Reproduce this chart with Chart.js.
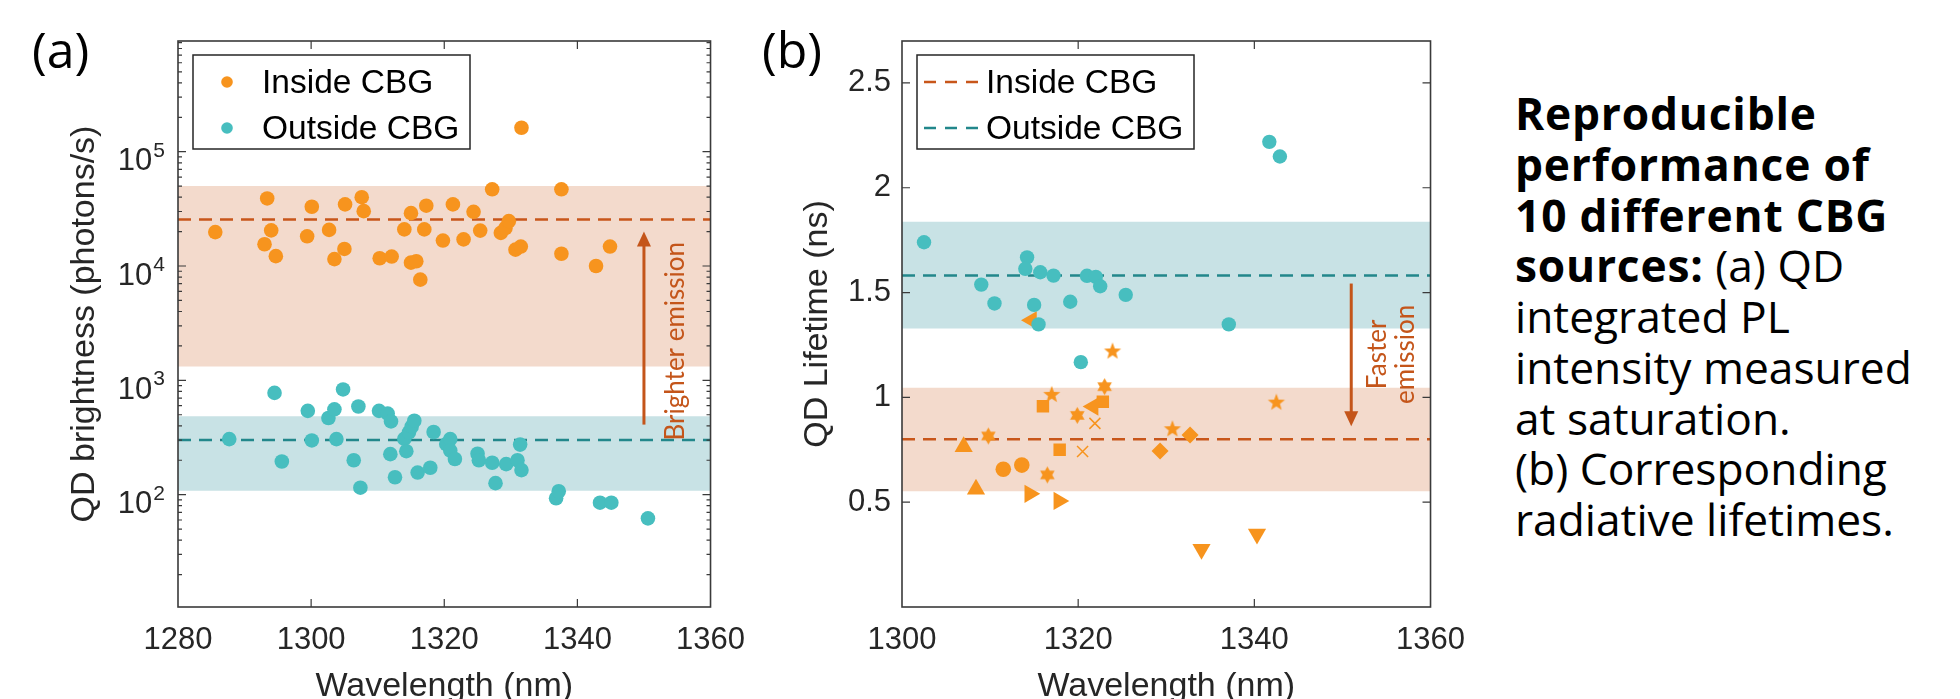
<!DOCTYPE html>
<html><head><meta charset="utf-8">
<script src="https://cdn.jsdelivr.net/npm/chart.js@4.4.0/dist/chart.umd.min.js"></script>
<style>
html,body{margin:0;padding:0;background:#fff;}
body{width:1960px;height:699px;overflow:hidden;position:relative;}
#ca{position:absolute;left:0;top:0;}
#cb{position:absolute;left:760px;top:0;}
.panel{position:absolute;font-family:'Open Sans',sans-serif;font-size:50px;color:#000;line-height:normal;}
#caption{position:absolute;left:1515px;top:88px;font-family:'Open Sans',sans-serif;font-size:44.3px;line-height:50.75px;color:#000;white-space:nowrap;}
#caption b{letter-spacing:0.8px;}
</style></head>
<body>
<canvas id="ca" width="760" height="720"></canvas>
<canvas id="cb" width="720" height="720"></canvas>
<div class="panel" style="left:32px;top:15px">(a)</div>
<div class="panel" style="left:762px;top:15px">(b)</div>
<div id="caption"><b>Reproducible<br>performance of<br>10 different CBG<br>sources:</b> (a) QD<br>integrated PL<br>intensity measured<br>at saturation.<br>(b) Corresponding<br>radiative lifetimes.</div>
<script>
// ---------- data ----------
const xRangeA = [1280, 1360];
const yRangeA = [10.4, 930000];
const xRangeB = [1300, 1360];
const yRangeB = [0, 2.7];
const xStep = 20;
const yStepB = 0.5;

// (a) integrated PL brightness (photons/s)
const insideWlA = [1285.6,1293.4,1293.0,1294.0,1294.7,1299.4,1300.1,1302.7,1303.5,1305.0,1305.1,1307.6,1307.9,1310.3,1312.1,1314.0,1315.0,1315.0,1315.8,1316.4,1317.0,1317.3,1319.8,1321.3,1322.9,1324.4,1325.4,1327.2,1328.5,1329.2,1329.7,1330.7,1331.5,1331.6,1337.6,1337.6,1342.8,1344.9];
const insideBrightA = [19800,39000,15500,20500,12200,18200,33000,20700,11500,14100,34600,40000,30200,11700,12100,20900,29000,10700,11000,7600,20900,33700,16700,34600,17100,29800,20400,46900,19500,21500,24700,13900,14800,162000,46900,12800,10000,14800];
const outsideWlA = [1287.7,1294.5,1295.6,1299.5,1300.1,1302.6,1303.5,1303.8,1304.8,1306.4,1307.1,1307.4,1310.2,1311.5,1312.0,1311.9,1312.6,1314.0,1314.3,1314.7,1315.1,1315.5,1316.0,1317.9,1318.4,1320.3,1320.9,1320.9,1321.6,1325.0,1325.2,1327.2,1327.7,1329.3,1331.0,1331.4,1331.6,1336.8,1337.2,1343.4,1345.1,1350.6];
const outsideBrightA = [306,776,195,541,298,468,558,306,832,200,590,115,541,512,437,226,142,308,240,351,393,443,156,172,353,277,306,243,205,228,200,190,126,185,200,274,164,93,107,85,85,62];
const insideBandA = [1320, 50000];   // [low, high]
const outsideBandA = [108, 485];
const insideMeanA = 25500;
const outsideMeanA = 300;
const arrowA = [1350, 410, 20000];   // [x, from, to]
const arrowTextA = [1354.8, 2200];
const arrowLabelA = ['Brighter emission'];

// (b) radiative lifetime (ns)
const outsideWlB = [1302.5,1309.0,1310.5,1314.2,1314.0,1315.7,1315.0,1315.5,1317.2,1319.1,1320.3,1321.0,1322.0,1322.5,1325.4,1337.1,1341.7,1342.9];
const outsideLifeB = [1.74,1.538,1.448,1.668,1.613,1.597,1.441,1.348,1.581,1.456,1.168,1.58,1.575,1.53,1.489,1.348,2.219,2.149];
// inside CBG, one marker shape per CBG source
const circleWl = [1311.5, 1313.6];       const circleLife = [0.657, 0.677];
const triUpWl = [1307.0, 1308.4];        const triUpLife = [0.765, 0.562];
const triDownWl = [1334.0, 1340.3];      const triDownLife = [0.276, 0.348];
const triRightWl = [1314.5, 1317.8];     const triRightLife = [0.54, 0.506];
const triLeftWl = [1314.7, 1321.7];      const triLeftLife = [1.368, 0.956];
const squareWl = [1316.0, 1317.9, 1322.8]; const squareLife = [0.958, 0.75, 0.979];
const diamondWl = [1329.3, 1332.7];      const diamondLife = [0.744, 0.82];
const pentaWl = [1317.0, 1323.9, 1330.7, 1342.5]; const pentaLife = [1.012, 1.219, 0.848, 0.975];
const hexaWl = [1309.8, 1316.5, 1319.9, 1323.0];  const hexaLife = [0.816, 0.63, 0.914, 1.051];
const crossWl = [1320.5, 1321.9];        const crossLife = [0.742, 0.876];
const insideBandB = [0.552, 1.046];
const outsideBandB = [1.329, 1.838];
const insideMeanB = 0.80;
const outsideMeanB = 1.581;
const arrowB = [1351, 1.543, 0.862];
const arrowTextB = [1355.6, 1.205];
const arrowLabelB = ['Faster', 'emission'];

// ---------- styles ----------
const ORANGE = '#F7941E';
const TEAL = '#47BEBF';
const ORANGE_BAND = '#F3DACC';
const TEAL_BAND = '#C8E2E5';
const ORANGE_DASH = '#C8561A';
const TEAL_DASH = '#22878B';
const ARROW = '#C4551A';
const AXIS = '#3a3a3a';
const TXT = '#262626';
const FONT = "'Liberation Sans', Arial, sans-serif";

const pts = (xs, ys) => xs.map((x, i) => ({x, y: ys[i]}));
const hline = (r, v) => [{x: r[0], y: v}, {x: r[1], y: v}];

function starCanvas(n, ro, ri, color) {
  const s = Math.ceil(ro * 2 + 2);
  const c = document.createElement('canvas');
  c.width = s; c.height = s;
  const g = c.getContext('2d');
  g.fillStyle = color;
  g.beginPath();
  for (let i = 0; i < 2 * n; i++) {
    const a = -Math.PI / 2 + i * Math.PI / n;
    const r = i % 2 ? ri : ro;
    const px = s / 2 + r * Math.cos(a), py = s / 2 + r * Math.sin(a);
    if (i === 0) g.moveTo(px, py); else g.lineTo(px, py);
  }
  g.closePath(); g.fill();
  return c;
}
const pentagram = starCanvas(5, 9, 3.8, ORANGE);
const hexagram = starCanvas(6, 8.4, 4.8, ORANGE);

// ---------- plugins ----------
const framePlugin = {
  id: 'frame',
  afterDraw(chart) {
    const {ctx, chartArea: a} = chart;
    const xs = chart.scales.x, ys = chart.scales.y;
    ctx.save();
    ctx.strokeStyle = AXIS; ctx.lineWidth = 1.6;
    ctx.strokeRect(a.left, a.top, a.right - a.left, a.bottom - a.top);
    ctx.lineWidth = 1.2;
    ctx.beginPath();
    xs.ticks.forEach(t => {
      if (t.value <= xs.min || t.value >= xs.max) return;
      const px = xs.getPixelForValue(t.value);
      ctx.moveTo(px, a.bottom); ctx.lineTo(px, a.bottom - 8);
      ctx.moveTo(px, a.top); ctx.lineTo(px, a.top + 8);
    });
    ys.ticks.forEach(t => {
      const v = t.value;
      if (v <= ys.min || v >= ys.max) return;
      let len = 8;
      if (ys.type === 'logarithmic') {
        const e = Math.floor(Math.log10(v) + 1e-9);
        const m = v / Math.pow(10, e);
        if (Math.abs(m - Math.round(m)) > 1e-6) return;
        len = Math.round(m) === 1 ? 8 : 4;
      }
      const py = ys.getPixelForValue(v);
      ctx.moveTo(a.left, py); ctx.lineTo(a.left + len, py);
      ctx.moveTo(a.right, py); ctx.lineTo(a.right - len, py);
    });
    ctx.stroke();
    // log labels 10^n
    if (ys.type === 'logarithmic') {
      ctx.fillStyle = TXT;
      ctx.textBaseline = 'alphabetic';
      ys.ticks.forEach(t => {
        const v = t.value;
        const e = Math.log10(v);
        if (Math.abs(e - Math.round(e)) > 1e-9 || v < ys.min || v > ys.max) return;
        const py = ys.getPixelForValue(v);
        const exp = String(Math.round(e));
        ctx.font = '21px ' + FONT;
        const ew = ctx.measureText(exp).width;
        const right = a.left - 13;
        ctx.textAlign = 'left';
        ctx.fillText(exp, right - ew, py + 5);
        ctx.font = '31px ' + FONT;
        ctx.textAlign = 'right';
        ctx.fillText('10', right - ew - 1, py + 18.5);
      });
    }
    ctx.restore();
  }
};

const legendPlugin = {
  id: 'boxLegend',
  afterDraw(chart, args, o) {
    if (!o.items) return;
    const {ctx, chartArea: a} = chart;
    const x0 = a.left + 15, y0 = a.top + 14, w = 277, h = 94;
    ctx.save();
    ctx.fillStyle = '#fff';
    ctx.fillRect(x0, y0, w, h);
    ctx.strokeStyle = '#262626'; ctx.lineWidth = 1.5;
    ctx.strokeRect(x0, y0, w, h);
    ctx.font = '33.5px ' + FONT;
    ctx.textBaseline = 'middle'; ctx.textAlign = 'left';
    o.items.forEach((it, i) => {
      const ds = chart.data.datasets[it];
      const cy = y0 + 27 + i * 46;
      if (o.kind === 'marker') {
        ctx.fillStyle = ds.backgroundColor;
        ctx.beginPath(); ctx.arc(x0 + 34, cy, 5.8, 0, Math.PI * 2); ctx.fill();
      } else {
        ctx.strokeStyle = ds.borderColor; ctx.lineWidth = 2.5;
        ctx.setLineDash([12, 9]);
        ctx.beginPath(); ctx.moveTo(x0 + 7, cy); ctx.lineTo(x0 + 64, cy); ctx.stroke();
        ctx.setLineDash([]);
      }
      ctx.fillStyle = '#000';
      ctx.fillText(ds.label, x0 + 69, cy + 2);
    });
    ctx.restore();
  }
};

const arrowPlugin = {
  id: 'arrowNote',
  afterDatasetsDraw(chart, args, o) {
    if (!o.arrow) return;
    const {ctx} = chart;
    const xs = chart.scales.x, ys = chart.scales.y;
    const px = xs.getPixelForValue(o.arrow[0]);
    const p0 = ys.getPixelForValue(o.arrow[1]);
    const p1 = ys.getPixelForValue(o.arrow[2]);
    const dir = p1 < p0 ? -1 : 1;
    ctx.save();
    ctx.strokeStyle = ARROW; ctx.fillStyle = ARROW; ctx.lineWidth = 3;
    ctx.beginPath(); ctx.moveTo(px, p0); ctx.lineTo(px, p1 - dir * 12); ctx.stroke();
    ctx.beginPath();
    ctx.moveTo(px, p1); ctx.lineTo(px - 7, p1 - dir * 15); ctx.lineTo(px + 7, p1 - dir * 15);
    ctx.closePath(); ctx.fill();
    const tx = xs.getPixelForValue(o.text[0]);
    const ty = ys.getPixelForValue(o.text[1]);
    ctx.translate(tx, ty); ctx.rotate(-Math.PI / 2);
    ctx.font = "26px Lato, 'Open Sans', sans-serif";
    ctx.textAlign = 'center'; ctx.textBaseline = 'middle';
    const n = o.lines.length, lh = 28;
    o.lines.forEach((s, i) => ctx.fillText(s, 0, (i - (n - 1) / 2) * lh));
    ctx.restore();
  }
};

Chart.register(framePlugin, legendPlugin, arrowPlugin);

function xScale(range) {
  return {
    type: 'linear', min: range[0], max: range[1],
    grid: {display: false, drawTicks: false}, border: {display: false},
    ticks: {stepSize: xStep, color: TXT, font: {size: 31, family: FONT}, padding: 15, maxRotation: 0,
            callback: v => String(v)},
    title: {display: true, text: 'Wavelength (nm)', color: TXT, font: {size: 34, family: FONT}, padding: {top: 0, bottom: 12.6}},
    afterFit: s => { s.height = 113; }
  };
}

// ---------- chart (a) ----------
new Chart(document.getElementById('ca'), {
  type: 'scatter',
  data: {datasets: [
    {label: 'Inside CBG', data: pts(insideWlA, insideBrightA), backgroundColor: ORANGE, borderWidth: 0, pointRadius: 7.3, order: 0},
    {label: 'Outside CBG', data: pts(outsideWlA, outsideBrightA), backgroundColor: TEAL, borderWidth: 0, pointRadius: 7.3, order: 0},
    {type: 'line', label: 'Inside mean', data: hline(xRangeA, insideMeanA), borderColor: ORANGE_DASH, borderDash: [13, 8], borderWidth: 2.5, pointRadius: 0, fill: false, order: 1},
    {type: 'line', label: 'Outside mean', data: hline(xRangeA, outsideMeanA), borderColor: TEAL_DASH, borderDash: [13, 8], borderWidth: 2.5, pointRadius: 0, fill: false, order: 1},
    {type: 'line', label: 'Inside spread', data: hline(xRangeA, insideBandA[1]), borderWidth: 0, pointRadius: 0, backgroundColor: ORANGE_BAND, fill: {value: insideBandA[0]}, order: 2},
    {type: 'line', label: 'Outside spread', data: hline(xRangeA, outsideBandA[1]), borderWidth: 0, pointRadius: 0, backgroundColor: TEAL_BAND, fill: {value: outsideBandA[0]}, order: 2}
  ]},
  options: {
    responsive: false, animation: false,
    layout: {padding: {left: 0, right: 43, top: 41, bottom: 0}},
    plugins: {legend: {display: false}, tooltip: {enabled: false},
      boxLegend: {items: [0, 1], kind: 'marker'},
      arrowNote: {arrow: arrowA, text: arrowTextA, lines: arrowLabelA}},
    scales: {
      x: xScale(xRangeA),
      y: {type: 'logarithmic', min: yRangeA[0], max: yRangeA[1],
          grid: {display: false, drawTicks: false}, border: {display: false},
          ticks: {display: false},
          title: {display: true, text: 'QD brightness (photons/s)', color: TXT, font: {size: 34, family: FONT}, padding: {top: 64.6, bottom: 0}},
          afterFit: s => { s.width = 178; }}
    }
  }
});

// ---------- chart (b) ----------
const oc = {backgroundColor: ORANGE, borderColor: ORANGE, borderWidth: 0, order: 0};
new Chart(document.getElementById('cb'), {
  type: 'scatter',
  data: {datasets: [
    {type: 'line', label: 'Inside CBG', data: hline(xRangeB, insideMeanB), borderColor: ORANGE_DASH, borderDash: [13, 8], borderWidth: 2.5, pointRadius: 0, fill: false, order: 1},
    {type: 'line', label: 'Outside CBG', data: hline(xRangeB, outsideMeanB), borderColor: TEAL_DASH, borderDash: [13, 8], borderWidth: 2.5, pointRadius: 0, fill: false, order: 1},
    {type: 'line', label: 'Inside spread', data: hline(xRangeB, insideBandB[1]), borderWidth: 0, pointRadius: 0, backgroundColor: ORANGE_BAND, fill: {value: insideBandB[0]}, order: 2},
    {type: 'line', label: 'Outside spread', data: hline(xRangeB, outsideBandB[1]), borderWidth: 0, pointRadius: 0, backgroundColor: TEAL_BAND, fill: {value: outsideBandB[0]}, order: 2},
    {label: 'Outside CBG points', data: pts(outsideWlB, outsideLifeB), backgroundColor: TEAL, borderWidth: 0, pointRadius: 7.2, order: 0},
    {...oc, label: 'CBG 1', data: pts(circleWl, circleLife), pointStyle: 'circle', pointRadius: 7.8},
    {...oc, label: 'CBG 2', data: pts(triUpWl, triUpLife), pointStyle: 'triangle', pointRadius: 10.5},
    {...oc, label: 'CBG 3', data: pts(triDownWl, triDownLife), pointStyle: 'triangle', rotation: 180, pointRadius: 10.5},
    {...oc, label: 'CBG 4', data: pts(triRightWl, triRightLife), pointStyle: 'triangle', rotation: 90, pointRadius: 10.5},
    {...oc, label: 'CBG 5', data: pts(triLeftWl, triLeftLife), pointStyle: 'triangle', rotation: 270, pointRadius: 10.5},
    {...oc, label: 'CBG 6', data: pts(squareWl, squareLife), pointStyle: 'rect', pointRadius: 8.8},
    {...oc, label: 'CBG 7', data: pts(diamondWl, diamondLife), pointStyle: 'rectRot', pointRadius: 8.5},
    {...oc, label: 'CBG 8', data: pts(pentaWl, pentaLife), pointStyle: pentagram, pointRadius: 9},
    {...oc, label: 'CBG 9', data: pts(hexaWl, hexaLife), pointStyle: hexagram, pointRadius: 8.4},
    {...oc, label: 'CBG 10', data: pts(crossWl, crossLife), pointStyle: 'crossRot', pointRadius: 7.8, borderWidth: 1.5, backgroundColor: 'rgba(0,0,0,0)'}
  ]},
  options: {
    responsive: false, animation: false,
    layout: {padding: {left: 0, right: 32, top: 41, bottom: 0}},
    plugins: {legend: {display: false}, tooltip: {enabled: false},
      boxLegend: {items: [0, 1], kind: 'dash'},
      arrowNote: {arrow: arrowB, text: arrowTextB, lines: arrowLabelB}},
    scales: {
      x: xScale(xRangeB),
      y: {type: 'linear', min: yRangeB[0], max: yRangeB[1],
          grid: {display: false, drawTicks: false}, border: {display: false},
          ticks: {stepSize: yStepB, color: TXT, font: {size: 31, family: FONT}, padding: 11,
                  callback: v => (v > 0 && Math.abs(v / yStepB - Math.round(v / yStepB)) < 1e-9) ? String(v) : ''},
          title: {display: true, text: 'QD Lifetime (ns)', color: TXT, font: {size: 34, family: FONT}, padding: {top: 37.6, bottom: 0}},
          afterFit: s => { s.width = 142; }}
    }
  }
});
</script>
</body></html>
